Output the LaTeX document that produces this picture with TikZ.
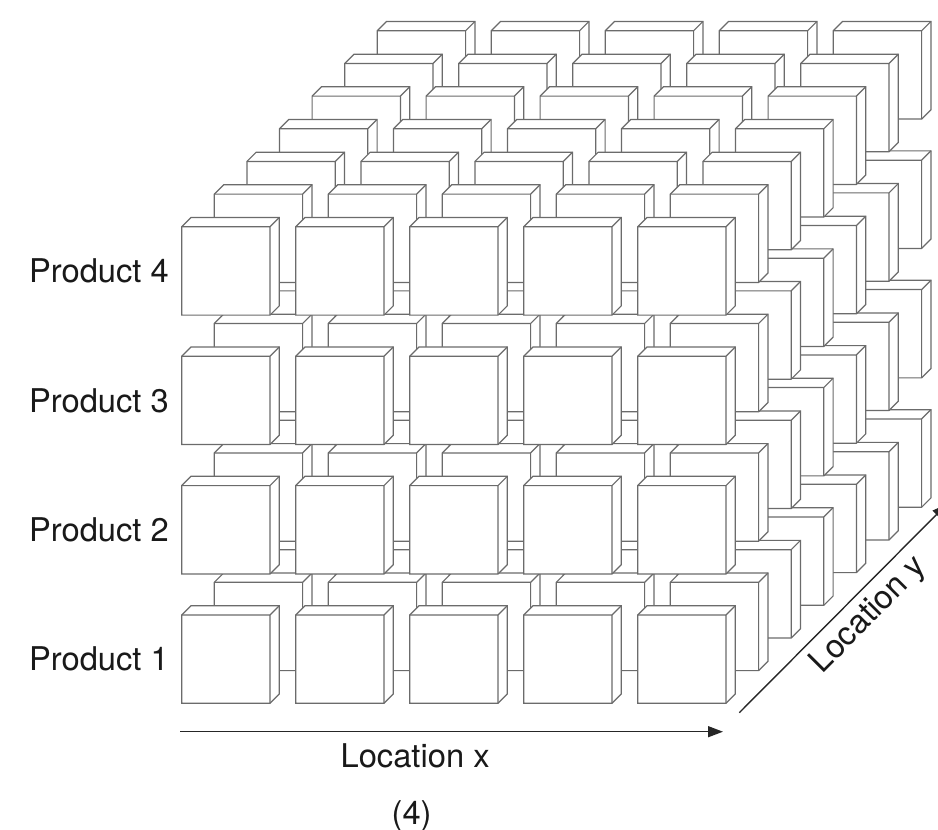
\documentclass[tikz,border=0pt]{standalone}
\usepackage{fontspec}
\setmainfont{TeX Gyre Heros}
\usepackage{tikz}
\usetikzlibrary{positioning,arrows.meta,calc}
\newcommand{\axfont}{\fontsize{32.7}{38}\selectfont}
\tikzset{
  face/.style={draw=black!58,fill=white,line width=1.2pt},
  edge/.style={draw=black!58,line width=1.2pt},
  arr/.style={-{Triangle[length=15pt,width=11pt]},line width=1.4pt,black!85},
  lbl/.style={font=\axfont,inner sep=0pt,text=black!90},
  slab/.pic={
    \filldraw[face] (0,0) -- (0,88.3) -- (88.3,88.3) -- (97.6,79) -- (97.6,-9.3) -- (9.3,-9.3) -- cycle;
    \draw[edge] (0,0) -- (88.3,0) -- (88.3,88.3) (88.3,0) -- (97.6,-9.3);
  },
}

\begin{document}
\begin{tikzpicture}[x=1pt,y=-1pt]
  \useasboundingbox (0,0) rectangle (938,830);
  \clip (0,0) rectangle (938,830);
  % slabs: back layers first
  \foreach \d in {6,...,0}
    \foreach \p in {4,...,1}
      \foreach \c in {0,...,4}
        \pic at ({181.7+114*\c+32.6*\d},{615-129.4*(\p-1)-32.67*\d}) {slab};
  % product labels
  \foreach \p in {1,...,4}
    \node[lbl,anchor=east] (prod\p) at (169,{659.2-129.4*(\p-1)}) {Product \p};
  % axes
  \coordinate (xs) at (180,731.7);
  \coordinate (xe) at (723,731.7);
  \coordinate (ys) at (739.3,712.7);
  \coordinate (ye) at (947,504);
  \draw[arr] (xs) -- node[lbl,pos=0.433,below,inner sep=11.5pt] (locx) {Location x} (xe);
  \draw[arr] (ys) -- node[lbl,sloped,pos=0.545,below,inner sep=7pt] (locy) {Location y} (ye);
  \node[lbl,below=19.8pt of locx,xshift=-3.5pt] (fig) {(4)};
\end{tikzpicture}
\end{document}
